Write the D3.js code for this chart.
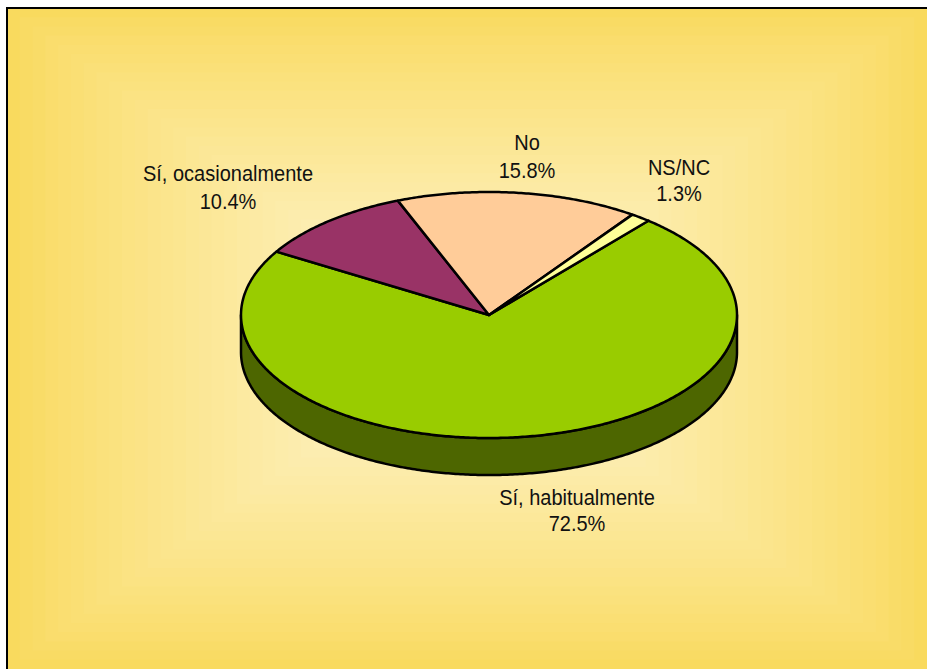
<!DOCTYPE html>
<meta charset="utf-8">
<style>
  body { margin: 0; background: #fff; }
  text { font-family: "Liberation Sans", Arial, sans-serif; fill: #111; }
</style>
<body>
<script src="https://d3js.org/d3.v7.min.js"></script>
<script>

// data
var categories = ["Sí, habitualmente", "Sí, ocasionalmente", "No", "NS/NC"];
var values = [72.5, 10.4, 15.8, 1.3];
var pctLabels = ["72.5%", "10.4%", "15.8%", "1.3%"];
var topColors = ["#99cc00", "#993366", "#ffcc99", "#ffff99"];
var sideColors = ["#4d6600", "#4d1a33", "#80664d", "#80804d"];
// label anchor (centre x, first baseline y) for each slice
var labelPos = [[577, 505], [228, 181], [527, 150], [679, 175]];
var labelGap = [26.5, 28, 28, 26.5];

var W = 927, H = 669;
var cx = 489, cy = 315, rx = 248, ry = 123, depth = 37;
var startDeg = 40;

var svg = d3.select("body").append("svg")
  .attr("width", W).attr("height", H);

// background: rectangular gradient from the centre, drawn as nested bands
var bgL = 7, bgT = 8, bgR = 927, bgB = 669;
var bx = (bgL + bgR) / 2, by = (bgT + bgB) / 2;
var nBands = 36;
var bandColor = d3.scaleLinear().domain([0, 1]).range(["#f9da5e", "#fef6d6"]).interpolate(d3.interpolateRgb);
for (var i = 0; i < nBands; i++) {
  var t = i / nBands;
  var hw = (bx - bgL) * (1 - t), hh = (by - bgT) * (1 - t);
  svg.append("rect")
    .attr("x", bx - hw).attr("y", by - hh)
    .attr("width", hw * 2).attr("height", hh * 2)
    .attr("fill", bandColor(Math.pow(t, 0.85)));
}
svg.append("rect")
  .attr("x", 7).attr("y", 8).attr("width", 940).attr("height", 680)
  .attr("fill", "none").attr("stroke", "#000").attr("stroke-width", 2);

// pie layout, angles clockwise from 12 o'clock
var pie = d3.pie().sort(null).value(function(d) { return d; })
  .startAngle(startDeg * Math.PI / 180)
  .endAngle(startDeg * Math.PI / 180 + 2 * Math.PI);
var arcs = pie(values);

function px(a) { return cx + rx * Math.sin(a); }
function py(a, dz) { return cy - ry * Math.cos(a) + (dz || 0); }
function samples(a0, a1) {
  var n = Math.max(2, Math.ceil(Math.abs(a1 - a0) / 0.01));
  return d3.range(n + 1).map(function(k) { return a0 + (a1 - a0) * k / n; });
}

var g = svg.append("g");

// side walls: only the front half (pi/2 .. 3pi/2 mod 2pi) is visible
arcs.forEach(function(d, i) {
  for (var off = -2; off <= 2; off++) {
    var lo = Math.PI / 2 + off * 2 * Math.PI, hi = 3 * Math.PI / 2 + off * 2 * Math.PI;
    var a0 = Math.max(d.startAngle, lo), a1 = Math.min(d.endAngle, hi);
    if (a1 <= a0) continue;
    var top = samples(a0, a1).map(function(a) { return [px(a), py(a)]; });
    var bot = samples(a1, a0).map(function(a) { return [px(a), py(a, depth)]; });
    g.append("path")
      .attr("d", d3.line()(top.concat(bot)) + "Z")
      .attr("fill", sideColors[i])
      .attr("stroke", "#000").attr("stroke-width", 2.5)
      .attr("stroke-linejoin", "round");
  }
});

// top faces
arcs.forEach(function(d, i) {
  var pts = [[cx, cy]].concat(samples(d.startAngle, d.endAngle).map(function(a) { return [px(a), py(a)]; }));
  g.append("path")
    .attr("d", d3.line()(pts) + "Z")
    .attr("fill", topColors[i])
    .attr("stroke", "#000").attr("stroke-width", 2.5)
    .attr("stroke-linejoin", "round");
});

// labels (slightly stretched vertically, as in the original)
categories.forEach(function(c, i) {
  var lx = labelPos[i][0], ly = labelPos[i][1];
  var t = svg.append("text")
    .attr("text-anchor", "middle")
    .attr("transform", "translate(" + lx + "," + ly + ") scale(1,1.1)")
    .style("font-size", "20px");
  t.append("tspan").attr("x", 0).attr("y", 0).text(c);
  t.append("tspan").attr("x", 0).attr("y", labelGap[i] / 1.1).text(pctLabels[i]);
});

</script>
</body>
